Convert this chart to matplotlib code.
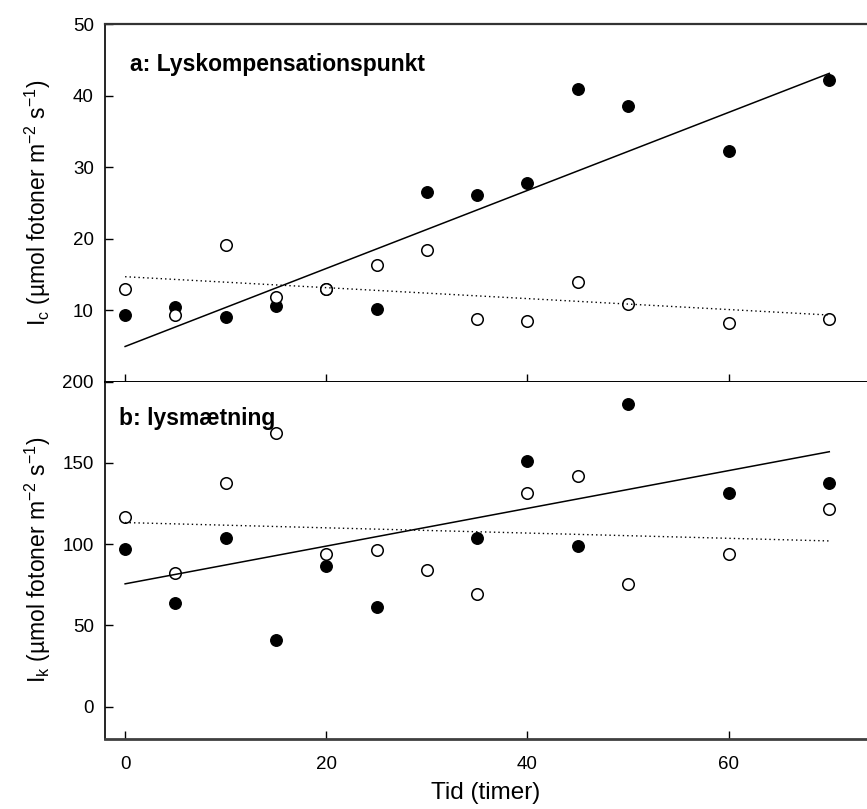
import numpy as np
import matplotlib
matplotlib.use("Agg")
import matplotlib.pyplot as plt

plt.rcParams['font.family'] = ['Liberation Sans', 'DejaVu Sans']
plt.rcParams['mathtext.fontset'] = 'custom'
plt.rcParams['mathtext.rm'] = 'Liberation Sans'
plt.rcParams['mathtext.it'] = 'Liberation Sans:italic'

# Tid (timer)
hours = [0, 5, 10, 15, 20, 25, 30, 35, 40, 45, 50, 60, 70]
hours_b_filled = [0, 5, 10, 15, 20, 25, 35, 40, 45, 50, 60, 70]

# a: lyskompensationspunkt (Ic)
ic_filled = [9.3, 10.4, 9.0, 10.6, 12.9, 10.1, 26.5, 26.1, 27.7, 40.9, 38.5, 32.3, 42.2]
ic_open = [12.9, 9.3, 19.1, 11.8, 13.0, 16.3, 18.4, 8.7, 8.5, 13.9, 10.8, 8.2, 8.7]

# b: lysmaetning (Ik)
ik_filled = [96.8, 64.0, 103.6, 41.0, 86.5, 61.5, 103.9, 151.1, 99.0, 186.2, 131.2, 137.4]
ik_open = [116.5, 82.0, 137.4, 168.1, 93.9, 96.4, 84.1, 69.1, 131.6, 142.1, 75.5, 93.9, 121.6]

# regression lines, value at 0 and 70 h
fit_hours = [0, 70]
ic_fit_filled = [4.9, 43.1]
ic_fit_open = [14.66, 9.3]
ik_fit_filled = [75.5, 156.8]
ik_fit_open = [113.2, 101.9]

fig = plt.figure(figsize=(8.67, 8.09), dpi=100)
ax1 = fig.add_axes([0.1211, 0.5284, 0.8789, 0.4419])
ax2 = fig.add_axes([0.1211, 0.0865, 0.8789, 0.4419])


def draw_panel(ax, xf, ys_filled, xo, ys_open, fit_f, fit_o):
    ax.plot(xf, ys_filled, 'o', color='black', markersize=8.3, zorder=2)
    ax.plot(xo, ys_open, 'o', markerfacecolor='white', markeredgecolor='black',
            markersize=8.3, markeredgewidth=1.1, zorder=3)
    ax.plot(fit_hours, fit_f, '-', color='black', linewidth=1.1, zorder=4)
    ax.plot(fit_hours, fit_o, color='black', linewidth=1.0,
            linestyle=(0, (1, 2.2)), zorder=4)
    ax.set_xlim(-2, 73.75)
    ax.set_xticks([0, 20, 40, 60])
    ax.tick_params(direction='in', length=6, width=1, labelsize=13.5, pad=8)
    ax.spines['right'].set_visible(False)


draw_panel(ax1, hours, ic_filled, hours, ic_open, ic_fit_filled, ic_fit_open)
ax1.set_ylim(0, 50)
ax1.set_yticks([10, 20, 30, 40, 50])
ax1.tick_params(axis='x', labelbottom=False)
ax1.spines['top'].set_linewidth(1.6)
ax1.spines['top'].set_color('#333333')
ax1.spines['bottom'].set_linewidth(1.4)
ax1.spines['left'].set_linewidth(1.2)
ax1.set_ylabel(r'I$_\mathrm{c}$ (µmol fotoner m$^{-2}$ s$^{-1}$)', fontsize=16.5)
ax1.yaxis.set_label_coords(-0.068, 0.5)
ax1.text(0.033, 0.8685, 'a: Lyskompensationspunkt', transform=ax1.transAxes,
         fontsize=16.5, fontweight='bold', va='baseline')

draw_panel(ax2, hours_b_filled, ik_filled, hours, ik_open, ik_fit_filled, ik_fit_open)
ax2.set_ylim(-20, 200)
ax2.set_yticks([0, 50, 100, 150, 200])
ax2.spines['top'].set_visible(False)
ax2.spines['bottom'].set_linewidth(2)
ax2.spines['bottom'].set_color('#404040')
ax2.spines['left'].set_linewidth(1.2)
ax2.tick_params(axis='x', pad=12)
ax2.set_ylabel(r'I$_\mathrm{k}$ (µmol fotoner m$^{-2}$ s$^{-1}$)', fontsize=16.5)
ax2.yaxis.set_label_coords(-0.068, 0.5)
ax2.set_xlabel('Tid (timer)', fontsize=17.5, labelpad=7)
ax2.text(0.018, 0.878, 'b: lysmætning', transform=ax2.transAxes,
         fontsize=16.5, fontweight='bold', va='baseline')

fig.savefig('out.png', dpi=100)
